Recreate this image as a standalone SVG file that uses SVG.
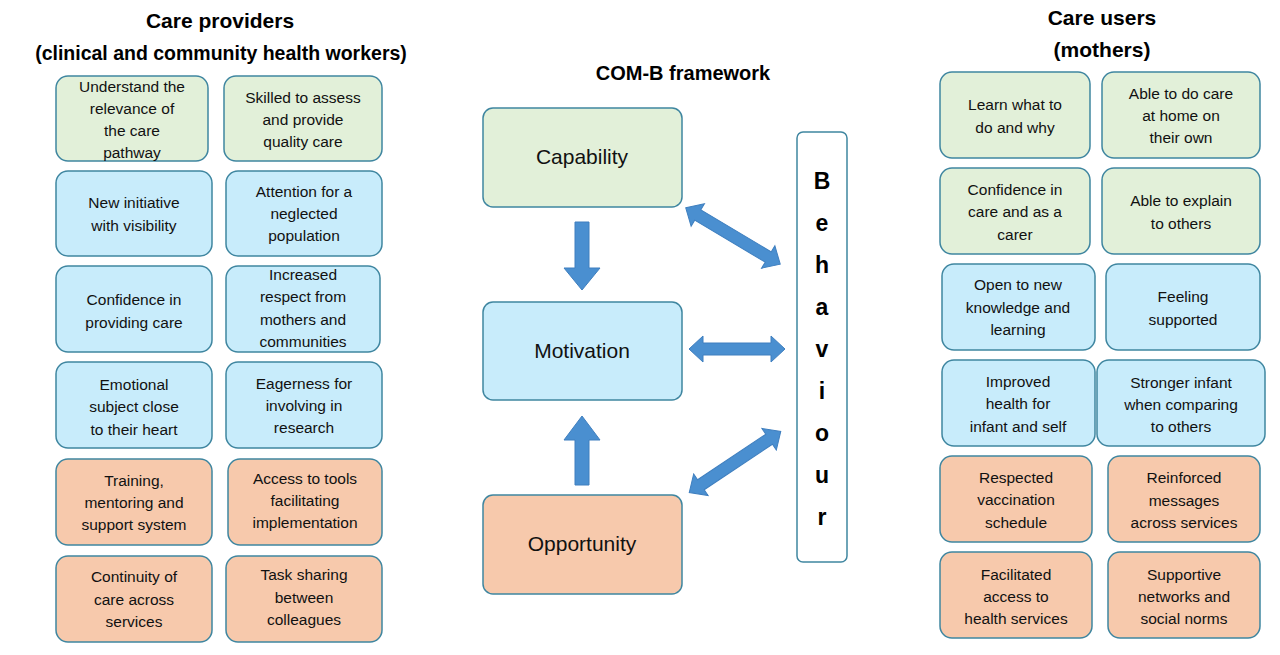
<svg xmlns="http://www.w3.org/2000/svg" width="1280" height="655" viewBox="0 0 1280 655">
<style>
.g{fill:#e2f0d9}.b{fill:#c8ecfb}.o{fill:#f7c9ac}
rect.n{stroke:#3f86a0;stroke-width:1.5}
.t{font-family:"Liberation Sans",Arial,sans-serif;font-size:15.5px;fill:#111;text-anchor:middle}
.h{font-family:"Liberation Sans",Arial,sans-serif;font-weight:bold;fill:#000;text-anchor:middle}
.c{font-family:"Liberation Sans",Arial,sans-serif;font-size:21px;fill:#111;text-anchor:middle}
.ar{fill:#4a8fd0;stroke:#3f7fbf;stroke-width:1}
</style>
<rect width="1280" height="655" fill="#fff"/>
<text class="h" x="220" y="28" font-size="21">Care providers</text>
<text class="h" x="221" y="60" font-size="19.5">(clinical and community health workers)</text>
<text class="h" x="683" y="80" font-size="20">COM-B framework</text>
<text class="h" x="1102" y="25" font-size="21">Care users</text>
<text class="h" x="1102" y="57" font-size="21">(mothers)</text>

<g id="l1"><rect class="n g" x="56" y="76" width="152" height="85" rx="12"/><text class="t" x="132" y="92">Understand the</text><text class="t" x="132" y="114">relevance of</text><text class="t" x="132" y="136">the care</text><text class="t" x="132" y="158">pathway</text></g>
<g id="l2"><rect class="n g" x="224" y="76" width="158" height="85" rx="12"/><text class="t" x="303" y="103">Skilled to assess</text><text class="t" x="303" y="125">and provide</text><text class="t" x="303" y="147">quality care</text></g>
<g id="l3"><rect class="n b" x="56" y="171" width="156" height="85" rx="12"/><text class="t" x="134" y="208">New initiative</text><text class="t" x="134" y="231">with visibility</text></g>
<g id="l4"><rect class="n b" x="226" y="171" width="156" height="85" rx="12"/><text class="t" x="304" y="197">Attention for a</text><text class="t" x="304" y="219">neglected</text><text class="t" x="304" y="241">population</text></g>
<g id="l5"><rect class="n b" x="56" y="266" width="156" height="86" rx="12"/><text class="t" x="134" y="305">Confidence in</text><text class="t" x="134" y="328">providing care</text></g>
<g id="l6"><rect class="n b" x="226" y="266" width="154" height="86" rx="12"/><text class="t" x="303" y="280">Increased</text><text class="t" x="303" y="302">respect from</text><text class="t" x="303" y="325">mothers and</text><text class="t" x="303" y="347">communities</text></g>
<g id="l7"><rect class="n b" x="56" y="362" width="156" height="86" rx="12"/><text class="t" x="134" y="390">Emotional</text><text class="t" x="134" y="412">subject close</text><text class="t" x="134" y="435">to their heart</text></g>
<g id="l8"><rect class="n b" x="226" y="362" width="156" height="86" rx="12"/><text class="t" x="304" y="389">Eagerness for</text><text class="t" x="304" y="411">involving in</text><text class="t" x="304" y="433">research</text></g>
<g id="l9"><rect class="n o" x="56" y="459" width="156" height="86" rx="12"/><text class="t" x="134" y="486">Training,</text><text class="t" x="134" y="508">mentoring and</text><text class="t" x="134" y="530">support system</text></g>
<g id="l10"><rect class="n o" x="228" y="459" width="154" height="86" rx="12"/><text class="t" x="305" y="484">Access to tools</text><text class="t" x="305" y="506">facilitating</text><text class="t" x="305" y="528">implementation</text></g>
<g id="l11"><rect class="n o" x="56" y="556" width="156" height="86" rx="12"/><text class="t" x="134" y="582">Continuity of</text><text class="t" x="134" y="605">care across</text><text class="t" x="134" y="627">services</text></g>
<g id="l12"><rect class="n o" x="226" y="556" width="156" height="86" rx="12"/><text class="t" x="304" y="580">Task sharing</text><text class="t" x="304" y="603">between</text><text class="t" x="304" y="625">colleagues</text></g>

<g id="r1"><rect class="n g" x="940" y="72" width="150" height="86" rx="12"/><text class="t" x="1015" y="110">Learn what to</text><text class="t" x="1015" y="133">do and why</text></g>
<g id="r2"><rect class="n g" x="1102" y="72" width="158" height="86" rx="12"/><text class="t" x="1181" y="99">Able to do care</text><text class="t" x="1181" y="121">at home on</text><text class="t" x="1181" y="143">their own</text></g>
<g id="r3"><rect class="n g" x="940" y="168" width="150" height="86" rx="12"/><text class="t" x="1015" y="195">Confidence in</text><text class="t" x="1015" y="217">care and as a</text><text class="t" x="1015" y="240">carer</text></g>
<g id="r4"><rect class="n g" x="1102" y="168" width="158" height="86" rx="12"/><text class="t" x="1181" y="206">Able to explain</text><text class="t" x="1181" y="229">to others</text></g>
<g id="r5"><rect class="n b" x="942" y="264" width="153" height="86" rx="12"/><text class="t" x="1018" y="290">Open to new</text><text class="t" x="1018" y="313">knowledge and</text><text class="t" x="1018" y="335">learning</text></g>
<g id="r6"><rect class="n b" x="1106" y="264" width="154" height="86" rx="12"/><text class="t" x="1183" y="302">Feeling</text><text class="t" x="1183" y="325">supported</text></g>
<g id="r7"><rect class="n b" x="942" y="360" width="153" height="86" rx="12"/><text class="t" x="1018" y="387">Improved</text><text class="t" x="1018" y="409">health for</text><text class="t" x="1018" y="432">infant and self</text></g>
<g id="r8"><rect class="n b" x="1097" y="360" width="168" height="86" rx="12"/><text class="t" x="1181" y="388">Stronger infant</text><text class="t" x="1181" y="410">when comparing</text><text class="t" x="1181" y="432">to others</text></g>
<g id="r9"><rect class="n o" x="940" y="456" width="152" height="86" rx="12"/><text class="t" x="1016" y="483">Respected</text><text class="t" x="1016" y="505">vaccination</text><text class="t" x="1016" y="528">schedule</text></g>
<g id="r10"><rect class="n o" x="1108" y="456" width="152" height="86" rx="12"/><text class="t" x="1184" y="483">Reinforced</text><text class="t" x="1184" y="506">messages</text><text class="t" x="1184" y="528">across services</text></g>
<g id="r11"><rect class="n o" x="940" y="552" width="152" height="86" rx="12"/><text class="t" x="1016" y="580">Facilitated</text><text class="t" x="1016" y="602">access to</text><text class="t" x="1016" y="624">health services</text></g>
<g id="r12"><rect class="n o" x="1108" y="552" width="152" height="86" rx="12"/><text class="t" x="1184" y="580">Supportive</text><text class="t" x="1184" y="602">networks and</text><text class="t" x="1184" y="624">social norms</text></g>

<g id="capability"><rect class="n g" x="483" y="108" width="199" height="99" rx="10"/><text class="c" x="582" y="164">Capability</text></g>
<g id="motivation"><rect class="n b" x="483" y="302" width="199" height="98" rx="10"/><text class="c" x="582" y="358">Motivation</text></g>
<g id="opportunity"><rect class="n o" x="483" y="495" width="199" height="99" rx="10"/><text class="c" x="582" y="551">Opportunity</text></g>
<g id="behaviour"><rect x="797" y="132" width="50" height="430" rx="6" fill="#fff" stroke="#3f86a0" stroke-width="1.5"/>
<g class="h" font-size="23"><text x="822" y="189">B</text><text x="822" y="231">e</text><text x="822" y="273">h</text><text x="822" y="315">a</text><text x="822" y="357">v</text><text x="822" y="399">i</text><text x="822" y="441">o</text><text x="822" y="483">u</text><text x="822" y="525">r</text></g></g>

<g id="connectors">
<polygon class="ar" points="575,222 589,222 589,268 600,268 582,290 564,268 575,268"/>
<polygon class="ar" points="575,485 589,485 589,440 600,440 582,416 564,440 575,440"/>
<polygon class="ar" transform="translate(737,349)" points="-48,0 -34,-13 -34,-6 34,-6 34,-13 48,0 34,13 34,6 -34,6 -34,13"/>
<polygon class="ar" transform="translate(733,236) rotate(30.8)" points="-55,0 -41,-13 -41,-6 41,-6 41,-13 55,0 41,13 41,6 -41,6 -41,13"/>
<polygon class="ar" transform="translate(735,462) rotate(-33.7)" points="-55,0 -41,-13 -41,-6 41,-6 41,-13 55,0 41,13 41,6 -41,6 -41,13"/>
</g>
</svg>
